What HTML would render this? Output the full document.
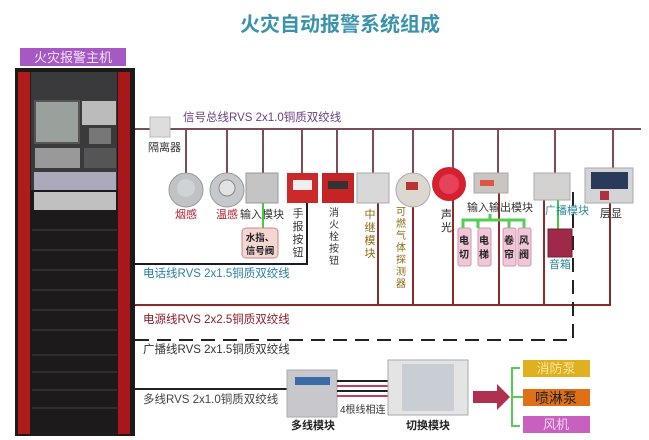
<!DOCTYPE html>
<html><head><meta charset="utf-8"><style>
html,body{margin:0;padding:0;background:#fff;}
svg{display:block;font-family:"Liberation Sans","Noto Sans CJK SC",sans-serif;}
</style></head><body>
<svg width="649" height="440" viewBox="0 0 649 440" xmlns="http://www.w3.org/2000/svg">
<rect width="649" height="440" fill="#fff"/>
<text x="340" y="31" text-anchor="middle" font-size="20" font-weight="bold" fill="#3a93ad" font-family="Noto Sans CJK SC,sans-serif">火灾自动报警系统组成</text>

<rect x="20" y="48" width="106" height="18" fill="#a658c4"/>
<text x="73" y="62" text-anchor="middle" font-size="13" fill="#f3e6f7">火灾报警主机</text>
<rect x="15" y="68" width="120" height="368" fill="#1c1a1b"/>
<rect x="18" y="72" width="12" height="362" fill="#b01c1c"/>
<rect x="118" y="72" width="12" height="362" fill="#a8181a"/>
<rect x="31" y="72" width="86" height="118" fill="#3a3a3c"/>
<rect x="35" y="101" width="44" height="42" fill="#9aa19c" stroke="#555" stroke-width="2"/>
<rect x="82" y="101" width="34" height="24" fill="#bbb"/>
<rect x="89" y="128" width="22" height="16" fill="#777"/>
<rect x="35" y="148" width="45" height="20" fill="#999"/>
<rect x="84" y="148" width="32" height="20" fill="#555"/>
<rect x="34" y="172" width="82" height="18" fill="#aab"/>
<rect x="34" y="192" width="82" height="18" fill="#c0c0c0"/>
<g stroke="#444" stroke-width="1">
<line x1="32" y1="230" x2="117" y2="230"/><line x1="32" y1="250" x2="117" y2="250"/>
<line x1="32" y1="270" x2="117" y2="270"/><line x1="32" y1="290" x2="117" y2="290"/>
<line x1="32" y1="310" x2="117" y2="310"/><line x1="32" y1="330" x2="117" y2="330"/>
<line x1="32" y1="355" x2="117" y2="355"/><line x1="32" y1="372" x2="117" y2="372"/>
<line x1="32" y1="390" x2="117" y2="390"/><line x1="32" y1="408" x2="117" y2="408"/>
</g>

<g stroke="#7a4d5d" stroke-width="2" fill="none">
<line x1="135" y1="129" x2="641" y2="129"/>
<line x1="186" y1="129" x2="186" y2="175"/>
<line x1="227" y1="129" x2="227" y2="175"/>
<line x1="263" y1="129" x2="263" y2="175"/>
<line x1="302" y1="129" x2="302" y2="175"/>
<line x1="337" y1="129" x2="337" y2="175"/>
<line x1="373" y1="129" x2="373" y2="175"/>
<line x1="413" y1="129" x2="413" y2="175"/>
<line x1="453" y1="129" x2="453" y2="170"/>
<line x1="498" y1="129" x2="498" y2="175"/>
<line x1="555" y1="129" x2="555" y2="175"/>
<line x1="613" y1="129" x2="613" y2="170"/>
</g>
<text x="183" y="121" font-size="11.5" fill="#6b3f80">信号总线RVS 2x1.0铜质双绞线</text>
<rect x="150" y="117" width="20" height="20" fill="#ddd" stroke="#bbb"/>
<text x="148" y="151" font-size="11" fill="#333">隔离器</text>

<polyline points="135,264 307,264 307,203" stroke="#1a1a2a" stroke-width="2" fill="none"/>
<text x="143" y="277" font-size="11.5" fill="#2a7fa8">电话线RVS 2x1.5铜质双绞线</text>

<g stroke="#8b2a2a" stroke-width="2" fill="none">
<line x1="135" y1="305" x2="611" y2="305"/>
<line x1="378" y1="203" x2="378" y2="305"/>
<line x1="413" y1="205" x2="413" y2="305"/>
<line x1="453" y1="200" x2="453" y2="305"/>
<line x1="499" y1="193" x2="499" y2="305"/>
<line x1="544" y1="200" x2="544" y2="305"/>
<line x1="610" y1="203" x2="610" y2="305"/>
</g>
<text x="143" y="323" font-size="11.5" fill="#8b1e2a">电源线RVS 2x2.5铜质双绞线</text>

<path d="M135 340 H573 V190" stroke="#222" stroke-width="2" stroke-dasharray="14,8" fill="none"/>
<text x="143" y="353" font-size="11.5" fill="#333">广播线RVS 2x1.5铜质双绞线</text>

<line x1="135" y1="389" x2="288" y2="389" stroke="#222" stroke-width="2"/>
<text x="143" y="403" font-size="11.5" fill="#444">多线RVS 2x1.0铜质双绞线</text>

<circle cx="186" cy="190" r="17" fill="#bfc3c6" stroke="#999"/>
<circle cx="186" cy="188" r="9" fill="#d0d3d6"/>
<circle cx="227" cy="190" r="17" fill="#c6c9cb" stroke="#999"/>
<circle cx="227" cy="188" r="8" fill="#e3e3e3" stroke="#888"/>
<text x="186" y="218" text-anchor="middle" font-size="11" fill="#b02030">烟感</text>
<text x="227" y="218" text-anchor="middle" font-size="11" fill="#b02030">温感</text>
<rect x="246" y="173" width="32" height="30" fill="#c4c4c4" stroke="#999"/>
<text x="262" y="218" text-anchor="middle" font-size="11" fill="#333">输入模块</text>
<line x1="263" y1="203" x2="263" y2="228" stroke="#4c4" stroke-width="2"/>
<rect x="242" y="228" width="36" height="30" rx="4" fill="#f3d6d2" stroke="#c88"/>
<text x="260" y="241" text-anchor="middle" font-size="9.5" font-weight="bold" fill="#222">水指、</text>
<text x="260" y="254" text-anchor="middle" font-size="9.5" font-weight="bold" fill="#222">信号阀</text>

<rect x="287" y="173" width="31" height="30" fill="#cc2a2a"/>
<rect x="293" y="180" width="19" height="10" fill="#eee"/>
<g font-size="11" fill="#333" text-anchor="middle">
<text x="298" y="217">手</text><text x="298" y="230">报</text><text x="298" y="243">按</text><text x="298" y="256">钮</text>
</g>
<rect x="322" y="173" width="32" height="30" fill="#c62424"/>
<rect x="328" y="181" width="20" height="8" fill="#333"/>
<g font-size="10" fill="#333" text-anchor="middle">
<text x="334" y="216">消</text><text x="334" y="228">火</text><text x="334" y="240">栓</text><text x="334" y="252">按</text><text x="334" y="264">钮</text>
</g>
<rect x="357" y="173" width="32" height="30" fill="#d8d8d8" stroke="#aaa"/>
<g font-size="11" fill="#8a6a10" text-anchor="middle">
<text x="370" y="218">中</text><text x="370" y="231">继</text><text x="370" y="244">模</text><text x="370" y="257">块</text>
</g>
<circle cx="413" cy="190" r="17" fill="#ddd8cf" stroke="#aaa"/>
<rect x="406" y="182" width="12" height="8" fill="#b33"/>
<g font-size="10" fill="#8a6a10" text-anchor="middle">
<text x="401" y="215">可</text><text x="401" y="227">燃</text><text x="401" y="239">气</text><text x="401" y="251">体</text><text x="401" y="263">探</text><text x="401" y="275">测</text><text x="401" y="287">器</text>
</g>
<circle cx="449" cy="184" r="17" fill="#d42030"/>
<circle cx="449" cy="184" r="10" fill="#e5435a"/>
<text x="441" y="218" font-size="11" fill="#222">声</text>
<text x="441" y="231" font-size="11" fill="#222">光</text>

<rect x="474" y="173" width="34" height="20" fill="#c9c6c2" stroke="#aaa"/>
<rect x="480" y="180" width="14" height="6" fill="#d54"/>
<text x="467" y="211" font-size="11" fill="#333">输入输出模块</text>
<path d="M463 228 V220 H524 V228 M478 220 V228 M509 220 V228 M490 214 V220" stroke="#5c5" stroke-width="3" fill="none"/>
<g fill="#f0c6d8" stroke="#c9a">
<rect x="458" y="228" width="13" height="38" rx="2"/>
<rect x="478" y="228" width="13" height="38" rx="2"/>
<rect x="503" y="228" width="13" height="38" rx="2"/>
<rect x="518" y="228" width="13" height="38" rx="2"/>
</g>
<g font-size="10" fill="#222" text-anchor="middle" font-weight="bold">
<text x="464" y="244">电</text><text x="464" y="258">切</text>
<text x="484" y="244">电</text><text x="484" y="258">梯</text>
<text x="509" y="244">卷</text><text x="509" y="258">帘</text>
<text x="524" y="244">风</text><text x="524" y="258">阀</text>
</g>

<rect x="534" y="173" width="36" height="27" fill="#d4d2d0" stroke="#aaa"/>
<line x1="558" y1="200" x2="558" y2="230" stroke="#4c4" stroke-width="2"/>
<text x="545" y="214" font-size="11" fill="#2a8a9a">广播模块</text>
<rect x="548" y="229" width="24" height="28" fill="#a02848" stroke="#6a2030"/>
<text x="560" y="268" text-anchor="middle" font-size="11" fill="#2a8a9a">音箱</text>

<rect x="585" y="168" width="48" height="35" fill="#d4d4d6" stroke="#aaa"/>
<rect x="591" y="172" width="37" height="17" fill="#2a3a5a"/>
<rect x="600" y="191" width="9" height="9" fill="#b03040"/>
<text x="611" y="217" text-anchor="middle" font-size="11" fill="#222">层显</text>

<rect x="287" y="370" width="50" height="47" fill="#c8c8cc" stroke="#aaa"/>
<rect x="295" y="377" width="35" height="8" fill="#3a6aa8"/>
<text x="313" y="429" text-anchor="middle" font-size="11" font-weight="bold" fill="#222">多线模块</text>
<g stroke-width="2">
<line x1="337" y1="381" x2="388" y2="381" stroke="#222"/>
<line x1="337" y1="386" x2="388" y2="386" stroke="#c04060"/>
<line x1="337" y1="391" x2="388" y2="391" stroke="#222"/>
<line x1="337" y1="396" x2="388" y2="396" stroke="#c04060"/>
</g>
<text x="340" y="413" font-size="10" fill="#333">4根线相连</text>
<rect x="388" y="360" width="80" height="55" fill="#e4e4e4" stroke="#aaa"/>
<rect x="402" y="364" width="52" height="47" fill="#c9ced4"/>
<text x="428" y="429" text-anchor="middle" font-size="11" font-weight="bold" fill="#222">切换模块</text>
<path d="M473 391 H497 V384 L510 397 L497 410 V403 H473 Z" fill="#b03050"/>
<path d="M520 368 H512 V426 H520 M512 397 H524" stroke="#5c5" stroke-width="2" fill="none"/>
<rect x="523" y="360" width="67" height="17" fill="#e0b020"/>
<text x="556" y="373" text-anchor="middle" font-size="13" fill="#f8e8a0">消防泵</text>
<rect x="523" y="389" width="67" height="17" fill="#e07018"/>
<text x="556" y="403" text-anchor="middle" font-size="14" fill="#222">喷淋泵</text>
<rect x="523" y="416" width="67" height="17" fill="#c860c0"/>
<text x="556" y="429" text-anchor="middle" font-size="13" fill="#f4d4f0">风机</text>
</svg>
</body></html>
